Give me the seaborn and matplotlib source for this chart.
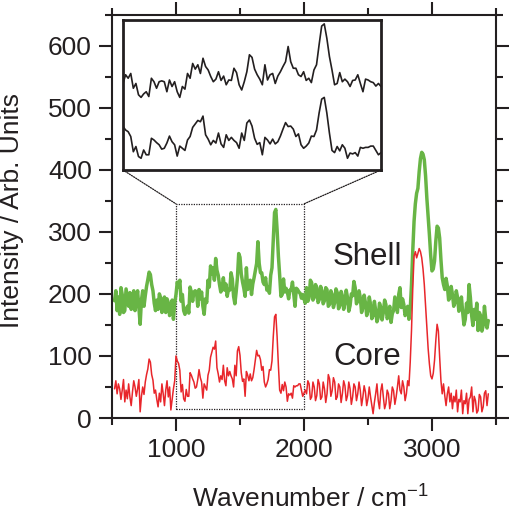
import numpy as np
import pandas as pd
import matplotlib
matplotlib.use("Agg")
import matplotlib.pyplot as plt
import seaborn as sns
from matplotlib.patches import Rectangle, ConnectionPatch

# wavenumber sampling (cm^-1), 520 ... 3440 every 10
wn = np.arange(520, 3441, 10)

# Shell spectrum (green): 520-990, 1000-2000, 2010-3440
shell_low = [189, 205, 173, 195, 167, 210, 199, 170, 173, 208, 194, 180,
             202, 175, 191, 205, 173, 188, 205, 178, 151, 190, 205, 180,
             197, 212, 223, 235, 231, 215, 205, 185, 173, 190, 175, 200,
             194, 170, 181, 195, 170, 192, 186, 165, 173, 190, 159, 185]
shell_mid = [199, 219, 211, 222, 188, 199, 173, 167, 175, 180,
             169, 211, 203, 188, 203, 205, 203, 180, 207, 192,
             203, 180, 167, 192, 186, 222, 211, 245, 232, 242,
             222, 257, 238, 230, 215, 203, 209, 226, 206, 216,
             196, 207, 206, 234, 224, 196, 184, 203, 226, 265,
             259, 232, 219, 209, 196, 242, 207, 219, 222, 199,
             216, 226, 238, 249, 284, 249, 234, 234, 219, 215,
             226, 206, 211, 201, 230, 242, 288, 331, 336, 303,
             261, 230, 196, 199, 224, 203, 209, 203, 192, 206,
             207, 219, 199, 180, 209, 207, 203, 201, 193, 199,
             192]
shell_high = [185,
              210, 188, 194, 222, 218, 190, 194, 215, 210, 186,
              191, 212, 205, 184, 189, 210, 207, 180, 183, 205,
              199, 178, 186, 208, 202, 176, 181, 204, 197, 175,
              186, 206, 194, 172, 181, 200, 197, 220, 210, 184,
              189, 205, 194, 170, 178, 198, 186, 165, 173, 195,
              183, 160, 165, 188, 173, 155, 162, 185, 178, 158,
              170, 190, 183, 160, 165, 180, 154, 168, 173, 195,
              183, 170, 199, 210, 178, 192, 183, 165, 170, 180,
              159, 175, 215, 270, 317, 345, 362, 370, 397, 418,
              428, 425, 416, 390, 354, 325, 295, 262, 237, 240,
              253, 285, 309, 306, 290, 255, 226, 215, 207, 225,
              213, 190, 194, 212, 199, 180, 186, 205, 194, 172,
              178, 195, 170, 150, 159, 185, 170, 215, 194, 165,
              149, 175, 159, 185, 141, 170, 165, 140, 149, 180,
              159, 145, 157]

# Core spectrum (red): 520-990, 1000-2000, 2010-3440
core_low = [47, 60, 39, 55, 47, 30, 45, 62, 26, 45, 31, 55,
            34, 20, 42, 60, 50, 35, 47, 62, 10, 35, 50, 38,
            58, 70, 79, 95, 90, 70, 61, 40, 45, 30, 18, 40,
            26, 55, 39, 20, 45, 60, 34, 50, 13, 30, 47, 60]
core_mid = [100, 92, 88, 77, 42, 54, 31, 27, 46, 35,
            35, 73, 69, 63, 58, 48, 50, 62, 78, 65,
            58, 32, 55, 50, 45, 69, 77, 98, 106, 114,
            111, 124, 81, 71, 58, 68, 62, 85, 60, 52,
            81, 68, 75, 68, 63, 50, 85, 68, 108, 115,
            101, 73, 59, 63, 35, 75, 69, 60, 71, 60,
            65, 78, 94, 109, 100, 101, 94, 77, 83, 58,
            50, 55, 62, 78, 77, 92, 131, 163, 167, 131,
            85, 45, 40, 54, 44, 58, 50, 27, 39, 37,
            40, 32, 52, 50, 52, 52, 55, 55, 45, 35,
            40]
core_high = [45,
             39, 60, 55, 30, 34, 58, 50, 28, 36, 62,
             55, 30, 34, 58, 47, 25, 39, 70, 63, 35,
             44, 65, 58, 30, 34, 55, 50, 25, 39, 60,
             52, 28, 36, 58, 47, 22, 34, 55, 50, 28,
             39, 58, 44, 20, 34, 52, 42, 20, 31, 50,
             34, 20, 7, 25, 39, 55, 28, 15, 44, 55,
             34, 15, 23, 45, 39, 15, 28, 50, 44, 22,
             34, 50, 68, 45, 39, 60, 50, 28, 39, 60,
             52, 90, 141, 210, 261, 268, 258, 265, 273, 268,
             258, 240, 215, 180, 146, 112, 87, 68, 63, 72,
             93, 125, 151, 140, 98, 60, 39, 55, 36, 20,
             39, 50, 26, 40, 15, 35, 26, 45, 10, 30,
             26, 45, 7, 28, 23, 40, 7, 30, 34, 50,
             10, 35, 28, 8, 12, 38, 34, 10, 18, 40,
             44, 20, 39]

samples = ["Shell", "Core"]
colors = {"Shell": "#68b545", "Core": "#e8262b"}
widths = {"Shell": 2.5, "Core": 1.1}
label_pos = {"Shell": (2495, 259), "Core": (2495, 99)}

x_major = [1000, 2000, 3000]
x_minor = [500, 1500, 2500, 3500]
y_major = [0, 100, 200, 300, 400, 500, 600]
y_minor = [50, 150, 250, 350, 450, 550, 650]

zoom_x = (1000, 2000)
zoom_y = (15, 345)
inset_y = (0, 345)

#%%
df = pd.concat([
    pd.DataFrame({"sample": "Shell", "wavenumber": wn,
                  "intensity": shell_low + shell_mid + shell_high}),
    pd.DataFrame({"sample": "Core", "wavenumber": wn,
                  "intensity": core_low + core_mid + core_high}),
], ignore_index=True)

sns.set_style("ticks")
plt.rcParams['font.family'] = ['Liberation Sans', 'DejaVu Sans']
plt.rcParams['mathtext.fontset'] = 'custom'
plt.rcParams['mathtext.rm'] = 'Liberation Sans'
plt.rcParams['mathtext.it'] = 'Liberation Sans:italic'
ink = "#231f20"

fig = plt.figure(figsize=(5.1, 5.15), dpi=100)
ax = fig.add_axes([0.2196, 0.1883, 0.7529, 0.7835])

sns.lineplot(data=df, x="wavenumber", y="intensity", hue="sample",
             hue_order=samples, palette=colors, size="sample", sizes=widths,
             estimator=None, sort=False, legend=False, ax=ax)

for s in samples:
    ax.text(*label_pos[s], s, fontsize=22.5, color=ink, ha="center", va="center")

ax.set_xlim(500, 3500)
ax.set_ylim(0, 650)
ax.set_xticks(x_major)
ax.set_xticks(x_minor, minor=True)
ax.set_yticks(y_major)
ax.set_yticks(y_minor, minor=True)
ax.tick_params(which="both", direction="out", top=True, right=True,
               width=1.5, color=ink, labelsize=19, labelcolor=ink)
ax.tick_params(which="major", length=9.5, pad=5)
ax.tick_params(which="minor", length=4.7)
for sp in ax.spines.values():
    sp.set_linewidth(1.5)
    sp.set_color(ink)

ax.set_xlabel("Wavenumber / cm$^{\\mathregular{-1}}$", fontsize=19, color=ink)
ax.set_ylabel("Intensity / Arb. Units", fontsize=19, color=ink)
ax.xaxis.set_label_coords(0.516, -0.168)
ax.yaxis.set_label_coords(-0.229, 0.515)

# dotted zoom window
ax.add_patch(Rectangle((zoom_x[0], zoom_y[0]), zoom_x[1] - zoom_x[0],
                       zoom_y[1] - zoom_y[0], fill=False, ls=(0, (1, 1)),
                       lw=0.9, ec=ink, zorder=1))

# inset
ins = fig.add_axes([0.2412, 0.6699, 0.5059, 0.2913])
mid = df[(df["wavenumber"] >= zoom_x[0]) & (df["wavenumber"] <= zoom_x[1])]
sns.lineplot(data=mid, x="wavenumber", y="intensity", units="sample",
             estimator=None, sort=False, color=ink, lw=1.2, ax=ins)
ins.set_xlim(*zoom_x)
ins.set_ylim(*inset_y)
ins.set_xticks([])
ins.set_yticks([])
ins.set_xlabel("")
ins.set_ylabel("")
for sp in ins.spines.values():
    sp.set_linewidth(2)
    sp.set_color(ink)

for xa, xb in [(0, zoom_x[0]), (1, zoom_x[1])]:
    con = ConnectionPatch(xyA=(xa, 0), coordsA=ins.transAxes,
                          xyB=(xb, zoom_y[1]), coordsB=ax.transData,
                          ls=(0, (1, 1)), lw=0.9, color=ink)
    fig.add_artist(con)

fig.savefig("out.png", dpi=100)
